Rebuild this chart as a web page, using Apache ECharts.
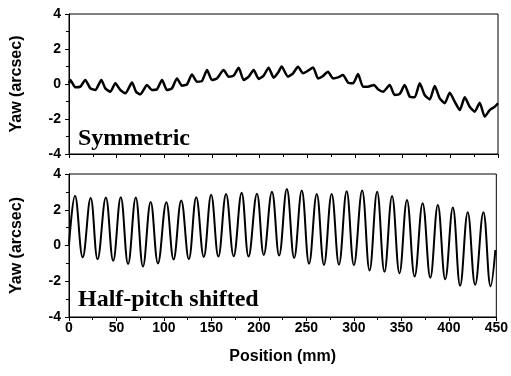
<!DOCTYPE html>
<html>
<head>
<meta charset="utf-8">
<script src="https://cdn.jsdelivr.net/npm/echarts@6/dist/echarts.min.js"></script>
<style>
  html, body { margin: 0; padding: 0; background: #fff; }
  #chart { width: 511px; height: 376px; }
</style>
</head>
<body>
<div id="chart"></div>
<script>
// Symmetric (top panel): position (mm) and yaw (arcsec)
const topPos = [0, 1.4, 6.6, 11.9, 17.1, 22.4, 27.6, 33.9, 38.1, 43.4, 48.6, 53.8, 59.1, 66.1, 70.3, 74.8,
  81.8, 87.1, 92.3, 97.6, 102.8, 108, 113.3, 118.5, 123.8, 129, 134.3, 139.5, 144.8, 150, 155.2,
  162.2, 167.5, 172.7, 178, 183.2, 188.5, 193.7, 199, 204.2, 209.4, 214.7, 219.9, 223, 229.7, 235,
  240.2, 245.5, 249, 256, 261.2, 266.4, 271.7, 276.9, 282.2, 287.4, 292.7, 297.9, 303.2, 308.4,
  313.6, 319.9, 324.1, 329.4, 336.4, 341.6, 346.9, 352.1, 357.4, 362.6, 367.9, 373.1, 378.4, 383.6,
  388.9, 394.1, 399.4, 404.6, 409.9, 415.1, 420.3, 425.6, 430.8, 436.1, 441.3, 446.6, 450]
const topYaw = [0.04, 0.23, -0.19, -0.15, 0.23, -0.25, -0.34, 0.23, -0.25, -0.44, 0.04, -0.34, -0.53, 0.08, -0.44, -0.59,
  -0.06, -0.34, -0.30, 0.23, -0.34, -0.25, 0.32, -0.10, -0.02, 0.55, 0.13, 0.17, 0.80, 0.23, 0.32,
  0.80, 0.42, 0.48, 0.93, 0.23, 0.42, 0.80, 0.29, 0.48, 0.93, 0.36, 0.70, 1.0, 0.42, 0.61,
  0.99, 0.61, 0.70, 0.95, 0.32, 0.46, 0.70, 0.32, 0.38, 0.51, 0.08, 0.04, 0.57, -0.15,
  -0.15, -0.06, -0.30, -0.44, -0.06, -0.63, -0.57, -0.06, -0.72, -0.76, 0.04, -0.63, -0.88, -0.11,
  -0.82, -1.10, -0.50, -1.01, -1.49, -0.76, -1.30, -1.58, -1.07, -1.87, -1.49, -1.30, -1.10]

// Half-pitch shifted (bottom panel): peaks and troughs of the oscillation
const peakPos = [6.3, 22.8, 38.8, 54.5, 70.3, 86.0, 102.5, 118.2, 134.0, 149.7, 165.4, 181.8, 197.9, 213.7,
  229.4, 245.1, 260.9, 276.6, 292.4, 308.7, 324.5, 340.2, 355.9, 372.4, 388.4, 404.2, 419.9, 436.4]
const peakYaw = [2.78, 2.66, 2.68, 2.70, 2.68, 2.44, 2.42, 2.52, 2.70, 2.84, 2.88, 2.95, 2.89, 3.01,
  3.16, 3.07, 2.88, 2.88, 3.03, 3.07, 3.01, 2.77, 2.55, 2.36, 2.27, 2.12, 1.86, 1.86]
const troughPos = [14.4, 30.1, 46.5, 62.2, 77.9, 93.7, 110.1, 126.2, 141.9, 157.3, 173.4, 189.1, 205.1, 221.3,
  237.1, 252.8, 268.5, 284.3, 300.0, 316.5, 332.2, 348.0, 364.0, 380.5, 396.2, 411.9, 427.7, 444.0]
const troughYaw = [-0.66, -0.77, -0.86, -1.04, -1.18, -1.0, -0.78, -0.76, -0.64, -0.62, -0.6, -0.62, -0.53, -0.56,
  -0.70, -1.02, -1.09, -1.07, -1.1, -1.40, -1.47, -1.56, -1.73, -1.80, -1.89, -2.25, -2.2, -2.28]
const startPoint = [0, 0.05]
const endPoint = [449, -0.25]

const xTicks = [0, 50, 100, 150, 200, 250, 300, 350, 400, 450]
const yTicks = [-4, -2, 0, 2, 4]

const topData = topPos.map((x, i) => [x, topYaw[i]])
const bottomData = [startPoint]
peakPos.forEach((x, i) => {
  bottomData.push([x, peakYaw[i]])
  bottomData.push([troughPos[i], troughYaw[i]])
})
bottomData.push(endPoint)

const chart = echarts.init(document.getElementById('chart'))

const tickFont = {fontFamily: 'Liberation Sans', fontWeight: 'bold', fontSize: 14, color: '#000'}

function xAxisFor(gridIndex, showLabels) {
  return {
    type: 'value',
    gridIndex: gridIndex,
    min: xTicks[0],
    max: xTicks[xTicks.length - 1],
    interval: 50,
    axisLine: {show: true, onZero: false, lineStyle: {color: '#000', width: 1}},
    axisTick: {show: true, length: 4, lineStyle: {color: '#000'}},
    minorTick: {show: true, splitNumber: 2, length: 3, lineStyle: {color: '#000'}},
    splitLine: {show: false},
    axisLabel: Object.assign({show: showLabels, margin: 4}, tickFont),
    name: showLabels ? 'Position (mm)' : '',
    nameLocation: 'middle',
    nameGap: 32,
    nameTextStyle: {fontFamily: 'Liberation Sans', fontWeight: 'bold', fontSize: 16, color: '#000'}
  }
}

function yAxisFor(gridIndex) {
  return {
    type: 'value',
    gridIndex: gridIndex,
    min: yTicks[0],
    max: yTicks[yTicks.length - 1],
    interval: 2,
    axisLine: {show: true, onZero: false, lineStyle: {color: '#000', width: 1}},
    axisTick: {show: true, length: 4, lineStyle: {color: '#000'}},
    minorTick: {show: true, splitNumber: 2, length: 3, lineStyle: {color: '#000'}},
    splitLine: {show: false},
    axisLabel: Object.assign({margin: 8}, tickFont),
    name: 'Yaw (arcsec)',
    nameLocation: 'middle',
    nameGap: 44,
    nameTextStyle: {fontFamily: 'Liberation Sans', fontWeight: 'bold', fontSize: 16, color: '#000'}
  }
}

const option = {
  animation: false,
  backgroundColor: '#fff',
  grid: [
    {left: 69, right: 13, top: 14, height: 140, show: true, borderColor: '#000', borderWidth: 1},
    {left: 69, right: 13, top: 174, height: 143, show: true, borderColor: '#000', borderWidth: 1}
  ],
  xAxis: [xAxisFor(0, false), xAxisFor(1, true)],
  yAxis: [yAxisFor(0), yAxisFor(1)],
  graphic: [
    {type: 'text', left: 78, top: 127, style: {text: 'Symmetric', fontFamily: 'Liberation Serif', fontWeight: 'bold', fontSize: 24, fill: '#000'}},
    {type: 'text', left: 78, top: 288, style: {text: 'Half-pitch shifted', fontFamily: 'Liberation Serif', fontWeight: 'bold', fontSize: 24, fill: '#000'}}
  ],
  series: [
    {
      name: 'Symmetric',
      type: 'line',
      xAxisIndex: 0,
      yAxisIndex: 0,
      data: topData,
      showSymbol: false,
      smooth: 0.2,
      lineStyle: {color: '#000', width: 2.5}
    },
    {
      name: 'Half-pitch shifted',
      type: 'line',
      xAxisIndex: 1,
      yAxisIndex: 1,
      data: bottomData,
      showSymbol: false,
      smooth: 0.4,
      lineStyle: {color: '#000', width: 2}
    }
  ]
}

chart.setOption(option)
</script>
</body>
</html>
